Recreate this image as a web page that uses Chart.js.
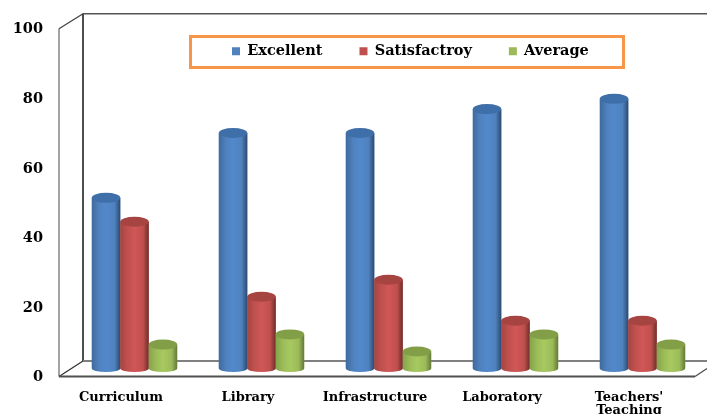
<!DOCTYPE html>
<html>
<head>
<meta charset="utf-8">
<script src="https://cdn.jsdelivr.net/npm/chart.js@4"></script>
<style>
html,body{margin:0;padding:0;background:#fff;overflow:hidden}
#wrap{position:absolute;left:0;top:0;width:707px;height:414px}
canvas{filter:blur(0.4px)}
</style>
</head>
<body>
<div id="wrap"><canvas id="c" width="707" height="414"></canvas></div>
<script>
const categories = ['Curriculum', 'Library', 'Infrastructure', 'Laboratory', ["Teachers'", 'Teaching']];
const excellent = [50, 69, 69, 76, 79];
const satisfactory = [43, 21, 26, 14, 14];
const average = [7, 10, 5, 10, 7];
const seriesNames = ['Excellent', 'Satisfactroy', 'Average'];
const tickValues = [0, 20, 40, 60, 80, 100];

const FONT = '"DejaVu Serif"';
const palette = [
  {flat:'#4f81bd', edgeL:'#3f6a9e', mid:'#5289cc', edgeR:'#2c4a70', top:'#3f6fa8'},
  {flat:'#c0504d', edgeL:'#a54542', mid:'#d05757', edgeR:'#6f2d2c', top:'#a64441'},
  {flat:'#9bbb59', edgeL:'#86a34a', mid:'#a8c95f', edgeR:'#64793a', top:'#829e47'}
];

const frame3d = {
  id: 'frame3d',
  beforeUpdate(chart) {
    const lg = chart.legend;
    if (lg && chart.boxes.includes(lg)) Chart.layouts.removeBox(chart, lg);
    if (lg && !lg.lineWidths) lg.lineWidths = [0];
  },
  beforeDatasetsDraw(chart) {
    const {ctx, chartArea: a} = chart;
    const line = (pts, color, w) => {
      ctx.beginPath();
      pts.forEach((p, i) => i ? ctx.lineTo(p[0], p[1]) : ctx.moveTo(p[0], p[1]));
      ctx.strokeStyle = color; ctx.lineWidth = w; ctx.stroke();
    };
    const d = 12;
    const backL = a.left + d, frontL = a.left - d;
    const topB = a.top - 15, botB = a.bottom - 15.5;
    const topF = a.top, botF = a.bottom;
    ctx.save();
    line([[frontL, topF], [frontL, botF]], '#8c8c8c', 1.6);
    line([[frontL, topF], [backL, topB]], '#444', 1.3);
    line([[backL, topB], [a.right + 2, topB]], '#555', 1.6);
    line([[backL, topB], [backL, botB]], '#3a3a3a', 1.8);
    line([[backL, botB], [a.right + 2, botB]], '#808080', 1.8);
    line([[frontL, botF], [backL, botB]], '#333', 1.3);
    line([[frontL, botF], [a.right - 11, botF]], '#505050', 1.8);
    line([[a.right - 11, botF], [a.right + 1, botF - 8]], '#505050', 1.3);
    ctx.restore();
  },
  afterDatasetsDraw(chart) {
    const {ctx} = chart;
    ctx.save();
    chart.data.datasets.forEach((ds, i) => {
      const c = palette[i];
      chart.getDatasetMeta(i).data.forEach(bar => {
        const rx = bar.width / 2, ry = 5, ryBase = 3.5;
        const l = bar.x - rx, r = bar.x + rx;
        const g = ctx.createLinearGradient(l, 0, r, 0);
        g.addColorStop(0, c.edgeL);
        g.addColorStop(0.25, c.flat);
        g.addColorStop(0.5, c.mid);
        g.addColorStop(0.8, c.flat);
        g.addColorStop(1, c.edgeR);
        ctx.beginPath();
        ctx.moveTo(l, bar.y);
        ctx.lineTo(l, bar.base);
        ctx.ellipse(bar.x, bar.base, rx, ryBase, 0, Math.PI, 0, true);
        ctx.lineTo(r, bar.y);
        ctx.closePath();
        ctx.fillStyle = g;
        ctx.fill();
        ctx.beginPath();
        ctx.ellipse(bar.x, bar.y, rx, ry, 0, 0, Math.PI * 2);
        ctx.fillStyle = c.top;
        ctx.fill();
      });
    });
    ctx.restore();
  },
  afterDraw(chart) {
    const {ctx, legend} = chart;
    ctx.save();
    ctx.strokeStyle = '#f79646';
    ctx.lineWidth = 3;
    ctx.strokeRect(190.5, 36.5, 433, 31);
    ctx.restore();
    legend.update(700, 70, {left: 0, right: 0, top: 0, bottom: 0});
    legend.left = 195; legend.right = 700; legend.top = 7; legend.bottom = 70;
    legend.draw(ctx);
  }
};

new Chart(document.getElementById('c'), {
  type: 'bar',
  data: {
    labels: categories,
    datasets: [excellent, satisfactory, average].map((values, i) => ({
      label: seriesNames[i],
      data: values,
      backgroundColor: palette[i].flat,
      borderWidth: 0,
      yAxisID: 'yBars',
      categoryPercentage: 0.672,
      barPercentage: 1
    }))
  },
  plugins: [frame3d],
  options: {
    responsive: false,
    animation: false,
    layout: {padding: {top: 20, right: 1, bottom: 0, left: 0}},
    plugins: {
      tooltip: {enabled: false},
      title: {display: false},
      legend: {
        display: true,
        position: 'top',
        align: 'start',
        labels: {
          boxWidth: 8, boxHeight: 8, padding: 37, color: '#000',
          font: {family: FONT, weight: 'bold', size: 14.5}
        }
      }
    },
    scales: {
      x: {
        grid: {display: false},
        border: {display: false},
        ticks: {
          color: '#000', maxRotation: 0, autoSkip: false, padding: 6, labelOffset: -13.5,
          font: {family: FONT, weight: 'bold', size: 13, lineHeight: 1.05}
        },
        afterFit(s) { s.height = 37.5; }
      },
      y: {
        min: 0, max: 100,
        grid: {display: false},
        border: {display: false},
        afterBuildTicks(s) { s.ticks = tickValues.map(v => ({value: v})); },
        ticks: {
          color: '#000', padding: 20, labelOffset: 1,
          font: {family: FONT, weight: 'bold', size: 14.5}
        },
        afterFit(s) { s.width = 71; }
      },
      yBars: {
        display: false,
        min: -2.34, max: 99.56
      }
    }
  }
});
</script>
</body>
</html>
